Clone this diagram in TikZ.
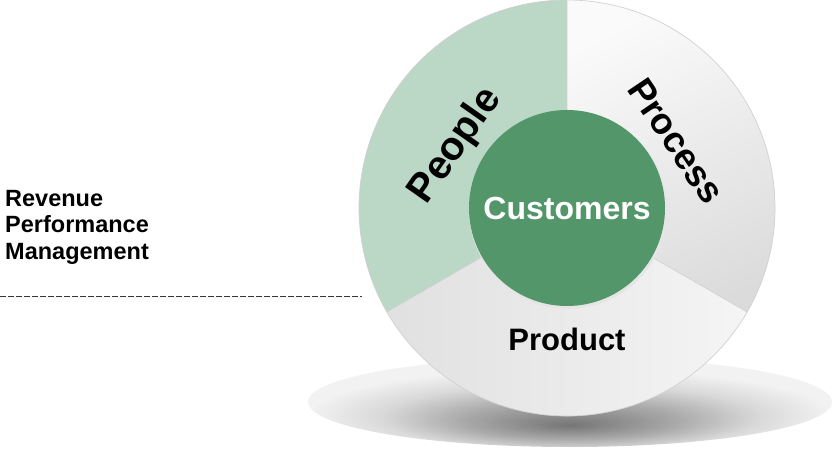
\documentclass[tikz,border=0pt]{standalone}
\usepackage{fontspec}
\setmainfont{Liberation Sans}
\usetikzlibrary{positioning,calc}
\definecolor{peoplegreen}{HTML}{BBD7C6}
\definecolor{custgreen}{HTML}{52966A}
\pgfdeclareradialshading{shadowfade}{\pgfpoint{0bp}{-13bp}}{color(0bp)=(black!54); color(10bp)=(black!34); color(18bp)=(black!15); color(25bp)=(black!5); color(50bp)=(black!5)}
\tikzset{>=stealth,
  segline/.style={draw=black!18, line width=0.7pt},
  seglabel/.style={font=\bfseries\fontsize{38}{44}\selectfont, inner sep=0pt},
  sidelabel/.style={font=\bfseries\fontsize{23.5}{26.5}\selectfont, align=left, inner sep=0pt}}
\begin{document}
\begin{tikzpicture}[x=1pt,y=1pt]
\useasboundingbox (0,0) rectangle (838,450);
\coordinate (O) at (567,242);
% shadow under the wheel
\shade[shading=shadowfade] (570,48) ellipse [x radius=262, y radius=45];
% sectors
\fill[peoplegreen] (O) -- ++(90:208) arc[start angle=90, end angle=210, radius=208] -- cycle;
\shade[top color=white!98!black, bottom color=black!14, shading angle=25] (O) -- ++(-30:208) arc[start angle=-30, end angle=90, radius=208] -- cycle;
\shade[left color=black!12, right color=black!4] (O) -- ++(210:208) arc[start angle=210, end angle=330, radius=208] -- cycle;
\draw[segline] (O) -- ++(90:208) (O) -- ++(210:208) (O) -- ++(-30:208);
\draw[segline] (O) circle[radius=208];
% hub
\fill[black!10] ($(O)+(1,-2)$) circle[radius=99];
\node[circle, fill=custgreen, minimum size=196pt, inner sep=0pt, text=white, font=\bfseries\fontsize{32}{36}\selectfont] (cust) at (O) {Customers};
\node[seglabel, font=\bfseries\fontsize{40}{44}\selectfont, rotate=55] (people) at (456,304) {People};
\node[seglabel, font=\bfseries\fontsize{36.5}{44}\selectfont, rotate=-56] (process) at (676,309) {Process};
\node[seglabel, font=\bfseries\fontsize{31}{36}\selectfont] (product) at (567,111) {Product};
% left side
\node[sidelabel, anchor=north west] (rpm) at (5,260) {Revenue\\Performance\\Management};
\coordinate (dashL) at (0,154);
\coordinate (dashR) at (362,154);
\draw[black!80, line width=0.9pt, dash pattern=on 5.5pt off 2.5pt] (dashL) -- (dashR);
\end{tikzpicture}
\end{document}
